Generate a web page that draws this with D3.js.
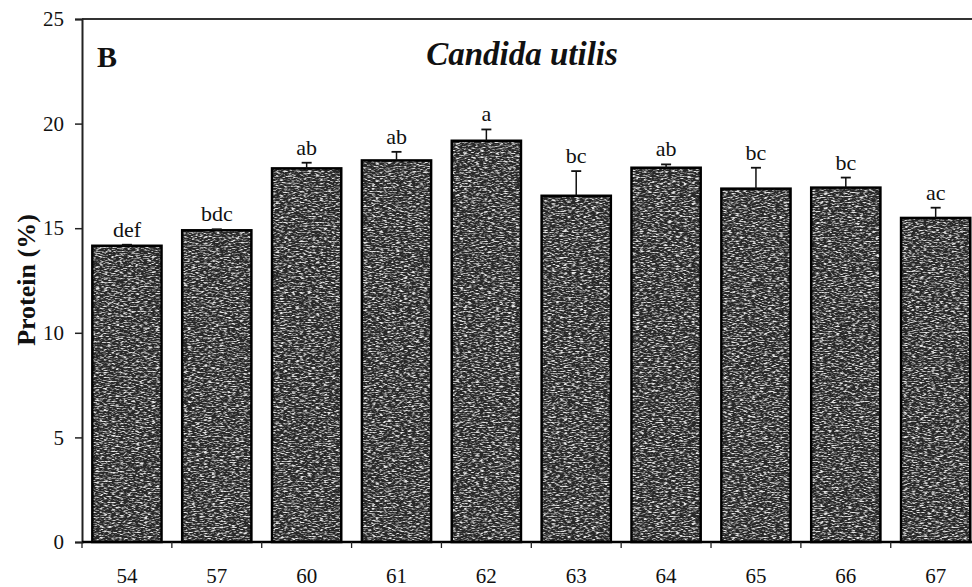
<!DOCTYPE html>
<html>
<head>
<meta charset="utf-8">
<script src="https://cdn.jsdelivr.net/npm/d3@7"></script>
<style>
  html, body { margin: 0; padding: 0; background: #fff; }
  svg { display: block; }
  text { font-family: "Liberation Serif", "Times New Roman", serif; fill: #111; }
</style>
</head>
<body>
<svg id="chart" width="972" height="587"></svg>
<script>
// Strain codes on the x axis
const categories = ["54", "57", "60", "61", "62", "63", "64", "65", "66", "67"];
// Mean protein content (%) and its error (upper bar only)
const protein = [14.16, 14.90, 17.86, 18.24, 19.18, 16.55, 17.89, 16.89, 16.94, 15.49];
const errors  = [0.05, 0.05, 0.27, 0.41, 0.54, 1.18, 0.16, 1.00, 0.48, 0.49];
// Significance letters printed above each bar
const letters = ["def", "bdc", "ab", "ab", "a", "bc", "ab", "bc", "bc", "ac"];
// Y axis tick values
const yTicks = [0, 5, 10, 15, 20, 25];

const svg = d3.select("#chart");
const W = 972;
const plotLeft = 82, plotTop = 19, plotBottom = 542;

const x = d3.scaleBand()
  .domain(categories)
  .range([plotLeft, plotLeft + 10 * 89.86])
  .paddingInner(0.23)
  .paddingOuter(0.115);

const y = d3.scaleLinear().domain([0, 25]).range([plotBottom, plotTop]);

// Grainy fill used inside the bars
const defs = svg.append("defs");
const grain = defs.append("filter")
  .attr("id", "grain")
  .attr("x", 0).attr("y", 0).attr("width", 1).attr("height", 1);
grain.append("feTurbulence")
  .attr("type", "fractalNoise")
  .attr("baseFrequency", "0.25 0.8")
  .attr("numOctaves", 2)
  .attr("seed", 7)
  .attr("result", "noise");
grain.append("feColorMatrix")
  .attr("in", "noise")
  .attr("type", "matrix")
  .attr("values", "0 0 0 0 0.8  0 0 0 0 0.8  0 0 0 0 0.8  3.5 0 0 0 -1.6")
  .attr("result", "spk");
grain.append("feComposite")
  .attr("in", "spk").attr("in2", "SourceAlpha").attr("operator", "in");

// Top frame line
svg.append("line")
  .attr("x1", plotLeft).attr("x2", W)
  .attr("y1", plotTop).attr("y2", plotTop)
  .attr("stroke", "#333").attr("stroke-width", 2);

// Bars
const bars = svg.append("g").selectAll("g")
  .data(categories)
  .join("g");

bars.append("rect")
  .attr("x", (d) => x(d))
  .attr("width", x.bandwidth())
  .attr("y", (d, i) => y(protein[i]))
  .attr("height", (d, i) => plotBottom - y(protein[i]))
  .attr("fill", "#282828");

bars.append("rect")
  .attr("x", (d) => x(d))
  .attr("width", x.bandwidth())
  .attr("y", (d, i) => y(protein[i]))
  .attr("height", (d, i) => plotBottom - y(protein[i]))
  .attr("fill", "#fff")
  .attr("filter", "url(#grain)");

bars.append("rect")
  .attr("x", (d) => x(d))
  .attr("width", x.bandwidth())
  .attr("y", (d, i) => y(protein[i]))
  .attr("height", (d, i) => plotBottom - y(protein[i]))
  .attr("fill", "none")
  .attr("stroke", "#000")
  .attr("stroke-width", 2.5);

// Error bars (upper only)
const cx = (d) => x(d) + x.bandwidth() / 2;
bars.append("line")
  .attr("x1", cx).attr("x2", cx)
  .attr("y1", (d, i) => y(protein[i]))
  .attr("y2", (d, i) => y(protein[i] + errors[i]))
  .attr("stroke", "#111").attr("stroke-width", 1.5);
bars.append("line")
  .attr("x1", (d) => cx(d) - 5).attr("x2", (d) => cx(d) + 5)
  .attr("y1", (d, i) => y(protein[i] + errors[i]))
  .attr("y2", (d, i) => y(protein[i] + errors[i]))
  .attr("stroke", "#111").attr("stroke-width", 1.8);

// Significance letters
bars.append("text")
  .attr("x", cx)
  .attr("y", (d, i) => y(protein[i] + errors[i]) - 8)
  .attr("text-anchor", "middle")
  .attr("font-size", 22)
  .text((d, i) => letters[i]);

// Y axis
const yAxis = svg.append("g")
  .attr("transform", `translate(${plotLeft},0)`)
  .call(d3.axisLeft(y).tickValues(yTicks).tickSize(7).tickPadding(11));
yAxis.select(".domain").attr("stroke", "#222").attr("stroke-width", 2);
yAxis.selectAll(".tick line").attr("stroke", "#222").attr("stroke-width", 1.5);
yAxis.selectAll(".tick text")
  .attr("font-size", 21)
  .attr("fill", "#111");

// X axis baseline with ticks on the slot boundaries
svg.append("line")
  .attr("x1", plotLeft).attr("x2", W)
  .attr("y1", plotBottom).attr("y2", plotBottom)
  .attr("stroke", "#000").attr("stroke-width", 2.5);

const half = x.step() * x.paddingInner() / 2;
const bounds = categories.map((d) => x(d) - half)
  .concat([x(categories[categories.length - 1]) + x.bandwidth() + half]);
svg.append("g").selectAll("line")
  .data(bounds)
  .join("line")
  .attr("x1", (d) => d).attr("x2", (d) => d)
  .attr("y1", plotBottom).attr("y2", plotBottom + 6)
  .attr("stroke", "#222").attr("stroke-width", 1.3);

// X category labels
const xAxis = svg.append("g")
  .attr("transform", `translate(0,${plotBottom})`)
  .call(d3.axisBottom(x).tickSize(0).tickPadding(0));
xAxis.select(".domain").remove();
xAxis.selectAll(".tick text")
  .attr("y", 41).attr("dy", 0)
  .attr("font-size", 21)
  .attr("fill", "#111");

// Axis title
svg.append("text")
  .attr("transform", "translate(35,280) rotate(-90)")
  .attr("text-anchor", "middle")
  .attr("font-size", 26)
  .attr("font-weight", "bold")
  .text("Protein (%)");

// Panel letter
svg.append("text")
  .attr("x", 97).attr("y", 67)
  .attr("font-size", 30)
  .attr("font-weight", "bold")
  .text("B");

// Organism name
svg.append("text")
  .attr("x", 522).attr("y", 65)
  .attr("text-anchor", "middle")
  .attr("font-size", 33)
  .attr("font-weight", "bold")
  .attr("font-style", "italic")
  .text("Candida utilis");
</script>
</body>
</html>
